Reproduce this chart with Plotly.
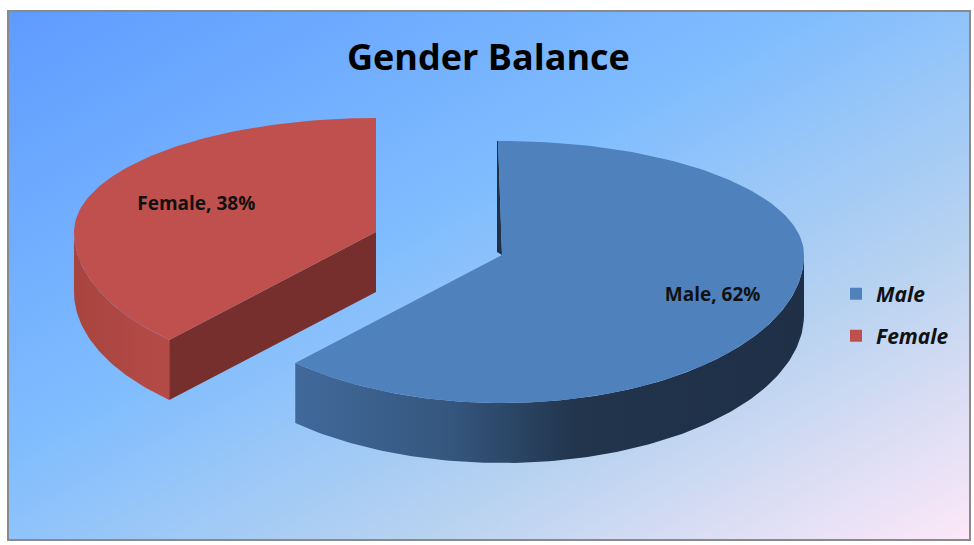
import math
import urllib.parse
import plotly.graph_objects as go

# ---- data ----
labels = ["Male", "Female"]
values = [62, 38]
colors_top = ["#4F81BD", "#C0504D"]
title_text = "Gender Balance"

# ---- geometry (pixel space of the 974x545 canvas) ----
W, H = 974, 545
RX, RY_UP, RY_DOWN, THICK = 302, 114, 148, 60
centers = [(502, 255), (376, 232)]   # male, female (female exploded)

total = sum(values)
fracs = [v / total for v in values]


def P(c, th_deg):
    th = math.radians(th_deg)
    s = math.sin(th)
    ry = RY_UP if s > 0 else RY_DOWN
    return (c[0] + RX * math.cos(th), c[1] - ry * s)


def arc(c, a0, a1, n=120):
    return [P(c, a0 + (a1 - a0) * i / n) for i in range(n + 1)]


# slice angle spans, starting at 12 o'clock going clockwise
spans = []
start = 90.0
for f in fracs:
    end = start - 360 * f
    spans.append((start, end))
    start = end

fig = go.Figure()


def poly(pts, color=None, grad=None):
    xs = [p[0] for p in pts] + [pts[0][0]]
    ys = [p[1] for p in pts] + [pts[0][1]]
    kw = dict(x=xs, y=ys, mode="lines", fill="toself", line=dict(width=0),
              hoverinfo="skip", showlegend=False)
    if grad:
        kw["fillgradient"] = dict(type="horizontal", colorscale=grad)
        kw["fillcolor"] = grad[0][1]
    else:
        kw["fillcolor"] = color
    fig.add_trace(go.Scatter(**kw))


# ---- female slice (index 1) ----
cf = centers[1]
a0, a1 = spans[1]
lo = 180.0
hi = a0 + 360
top = arc(cf, lo, hi, 60)
wall = top + [(x, y + THICK) for x, y in reversed(top)]
poly(wall, grad=[[0, "#A8443F"], [1, "#B54B47"]])
pe = P(cf, hi)
poly([cf, pe, (pe[0], pe[1] + THICK), (cf[0], cf[1] + THICK)], color="#772F2D")
poly([cf] + arc(cf, hi, a1 + 360, 120), color=colors_top[1])

# ---- male slice (index 0) ----
cm = centers[0]
m0, m1 = spans[0]
top = arc(cm, 0, m1, 120)
wall = top + [(x, y + THICK) for x, y in reversed(top)]
poly(wall, grad=[[0, "#41699A"], [0.3, "#35577F"], [0.55, "#22354D"], [1, "#1E2F46"]])
pt = P(cm, m0)
poly([(cm[0], cm[1]), (pt[0] - 4, pt[1]), (pt[0] - 5, pt[1]), (cm[0] - 5, cm[1] - 3)], color="#1F3048")
mtop = [cm] + arc(cm, m0, m1, 160)
mtop[1] = (mtop[1][0] - 4, mtop[1][1])
poly(mtop, color=colors_top[0])

# ---- data labels ----
for i, (lab, c) in enumerate(zip(labels, centers)):
    mid = (spans[i][0] + spans[i][1]) / 2
    k = 0.75 if i == 0 else 0.64
    th = math.radians(mid)
    s = math.sin(th)
    ry = RY_UP if s > 0 else RY_DOWN
    lx = c[0] + k * RX * math.cos(th)
    ly = c[1] - k * ry * s
    fig.add_trace(go.Scatter(
        x=[lx], y=[ly], mode="text",
        text=[f"<b>{lab}, {round(fracs[i] * 100)}%</b>"],
        textfont=dict(family="Open Sans", size=19, color="#111111"),
        hoverinfo="skip", showlegend=False))

# ---- legend entries ----
leg_names = ["legend", "legend2"]
for i, lab in enumerate(labels):
    fig.add_trace(go.Scatter(
        x=[None], y=[None], mode="markers", name=f"<b><i>{lab}</i></b>",
        marker=dict(symbol="square", size=12, color=colors_top[i]),
        legend=leg_names[i], showlegend=True))

leg_common = dict(bgcolor="rgba(0,0,0,0)", borderwidth=0,
                  font=dict(family="Open Sans", size=21, color="#111111"),
                  xanchor="left", yanchor="middle", itemwidth=30)

fig.update_layout(
    width=W, height=H,
    margin=dict(l=0, r=0, t=0, b=0),
    paper_bgcolor="white", plot_bgcolor="rgba(0,0,0,0)",
    xaxis=dict(range=[0, W], visible=False, fixedrange=True),
    yaxis=dict(range=[H, 0], visible=False, fixedrange=True),
    legend=dict(x=836 / W, y=1 - 294 / H, **leg_common),
    legend2=dict(x=836 / W, y=1 - 336 / H, **leg_common),
    annotations=[dict(text=f"<b>{title_text}</b>", x=488, y=56, xref="x", yref="y",
                      showarrow=False, font=dict(family="Open Sans", size=36, color="#000000"))],
    shapes=[dict(type="rect", xref="x", yref="y", x0=8, y0=11, x1=970, y1=540,
                 line=dict(color="#8A8A8A", width=2), fillcolor="rgba(0,0,0,0)", layer="above")],
)

svg = ("<svg xmlns='http://www.w3.org/2000/svg' width='962' height='529' preserveAspectRatio='none'>"
       "<defs><linearGradient id='g' x1='0' y1='0' x2='1' y2='1'>"
       "<stop offset='0' stop-color='#5F9BFF'/>"
       "<stop offset='0.42' stop-color='#80BDFE'/>"
       "<stop offset='0.72' stop-color='#B9D3F0'/>"
       "<stop offset='1' stop-color='#FDE8F8'/>"
       "</linearGradient></defs><rect width='962' height='529' fill='url(#g)'/></svg>")
src = "data:image/svg+xml;charset=utf-8," + urllib.parse.quote(svg)
fig.add_layout_image(dict(source=src, xref="paper", yref="paper",
                          x=8 / W, y=1 - 11 / H, sizex=962 / W, sizey=529 / H,
                          xanchor="left", yanchor="top", sizing="stretch", layer="below"))

fig.write_html("out.html", config={"displayModeBar": False},
               post_script="document.body.style.margin='0px';document.body.style.overflow='hidden';")
